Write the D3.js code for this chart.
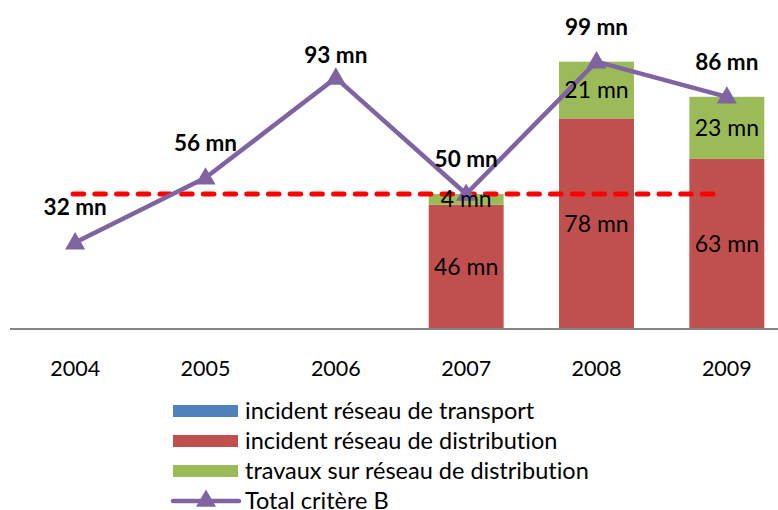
<!DOCTYPE html>
<html>
<head>
<meta charset="utf-8">
<script src="https://cdn.jsdelivr.net/npm/d3@7"></script>
<style>
  body { margin: 0; background: #fff; }
  svg { display: block; font-family: Lato, "Open Sans", sans-serif; font-variant-ligatures: none; }
</style>
</head>
<body>
<div id="chart"></div>
<script>
// chart data (values in millions)
const years = ["2004", "2005", "2006", "2007", "2008", "2009"];
const transport = [0, 0, 0, 0, 0, 0];
const distribution = [null, null, null, 46, 78, 63];
const travaux = [null, null, null, 4, 21, 23];
const totalB = [32, 56, 93, 50, 99, 86];
const seuil = 50;
const seriesNames = ["incident réseau de transport", "incident réseau de distribution", "travaux sur réseau de distribution", "Total critère B"];

const colors = {
    transport: "#4F81BD",
    distribution: "#C0504D",
    travaux: "#9BBB59",
    total: "#8064A2",
    seuil: "#FF0000"
};

const width = 778, height = 510;

const svg = d3.select("#chart").append("svg")
    .attr("width", width)
    .attr("height", height);

// scales
const x = d3.scaleBand()
    .domain(years)
    .range([10, 792]);

const y = d3.scaleLinear()
    .domain([0, 120])
    .range([329, 5]);

const barW = x.bandwidth() * 0.575;
const cx = d => x(d) + x.bandwidth() / 2;

// stacked bars
const rows = years.map((yr, i) => ({
    year: yr,
    transport: transport[i] || 0,
    distribution: distribution[i] || 0,
    travaux: travaux[i] || 0
}));
const keys = ["transport", "distribution", "travaux"];
const stacked = d3.stack().keys(keys)(rows);

const layers = svg.append("g").selectAll("g")
    .data(stacked)
    .join("g")
    .attr("fill", d => colors[d.key]);

layers.selectAll("rect")
    .data(d => d.map(p => ({ key: d.key, year: p.data.year, y0: p[0], y1: p[1] })))
    .join("rect")
    .filter(d => d.y1 > d.y0)
    .attr("x", d => cx(d.year) - barW / 2)
    .attr("width", barW)
    .attr("y", d => y(d.y1))
    .attr("height", d => y(d.y0) - y(d.y1));

// x axis baseline
svg.append("line")
    .attr("x1", 10).attr("x2", width)
    .attr("y1", y(0)).attr("y2", y(0))
    .attr("stroke", "#868686")
    .attr("stroke-width", 2);

// year labels
svg.append("g").selectAll("text")
    .data(years)
    .join("text")
    .attr("x", d => cx(d))
    .attr("y", 368)
    .attr("dy", "0.35em")
    .attr("text-anchor", "middle")
    .attr("font-size", 21.5)
    .attr("fill", "#000")
    .text(d => d);

// dashed threshold line
svg.append("line")
    .attr("x1", cx(years[0]) - 2)
    .attr("x2", cx(years[years.length - 1]) - 7)
    .attr("y1", y(seuil)).attr("y2", y(seuil))
    .attr("stroke", colors.seuil)
    .attr("stroke-width", 5)
    .attr("stroke-linecap", "round")
    .attr("stroke-dasharray", "10.5 11.2");

// segment labels
const segs = [];
stacked.forEach(layer => layer.forEach(p => {
    if (p[1] > p[0]) segs.push({ year: p.data.year, mid: (p[0] + p[1]) / 2, v: p[1] - p[0] });
}));

// total line
const totals = years.map((yr, i) => ({ year: yr, v: totalB[i] }));
const line = d3.line()
    .x(d => cx(d.year))
    .y(d => y(d.v));

svg.append("path")
    .datum(totals)
    .attr("fill", "none")
    .attr("stroke", colors.total)
    .attr("stroke-width", 4.5)
    .attr("stroke-linejoin", "round")
    .attr("d", line);

const tri = d3.symbol().type(d3.symbolTriangle).size(175);
svg.append("g").selectAll("path")
    .data(totals)
    .join("path")
    .attr("transform", d => `translate(${cx(d.year)},${y(d.v) + 1})`)
    .attr("fill", colors.total)
    .attr("d", tri);

svg.append("g").selectAll("text")
    .data(segs)
    .join("text")
    .attr("x", d => cx(d.year))
    .attr("y", d => y(d.mid))
    .attr("dy", "0.35em")
    .attr("text-anchor", "middle")
    .attr("font-size", 23)
    .attr("fill", "#000")
    .text(d => d.v + " mn");

// total labels (2006 label sits a bit lower in the original)
const labelNudge = { "2006": 12 };
svg.append("g").selectAll("text")
    .data(totals)
    .join("text")
    .attr("x", d => cx(d.year))
    .attr("y", d => y(d.v) - 35 + (labelNudge[d.year] || 0))
    .attr("dy", "0.35em")
    .attr("text-anchor", "middle")
    .attr("font-size", 22.5)
    .attr("font-weight", "bold")
    .attr("fill", "#000")
    .text(d => d.v + " mn");

// legend
const legend = svg.append("g").attr("transform", "translate(173,411)");
const legendColors = [colors.transport, colors.distribution, colors.travaux];
legendColors.forEach((c, i) => {
    legend.append("rect")
        .attr("x", 0).attr("y", i * 30 - 6)
        .attr("width", 65).attr("height", 12)
        .attr("fill", c);
});
const lg = legend.append("g").attr("transform", "translate(0,90)");
lg.append("line")
    .attr("x1", 0).attr("x2", 66)
    .attr("y1", 0).attr("y2", 0)
    .attr("stroke", colors.total)
    .attr("stroke-width", 4.5)
    .attr("stroke-linecap", "round");
lg.append("path")
    .attr("transform", "translate(33,0)")
    .attr("fill", colors.total)
    .attr("d", tri);

legend.selectAll("text.lab")
    .data(seriesNames)
    .join("text")
    .attr("class", "lab")
    .attr("x", 72)
    .attr("y", (d, i) => i * 30)
    .attr("dy", "0.35em")
    .attr("font-size", 23.5)
    .attr("fill", "#000")
    .text(d => d);
</script>
</body>
</html>
